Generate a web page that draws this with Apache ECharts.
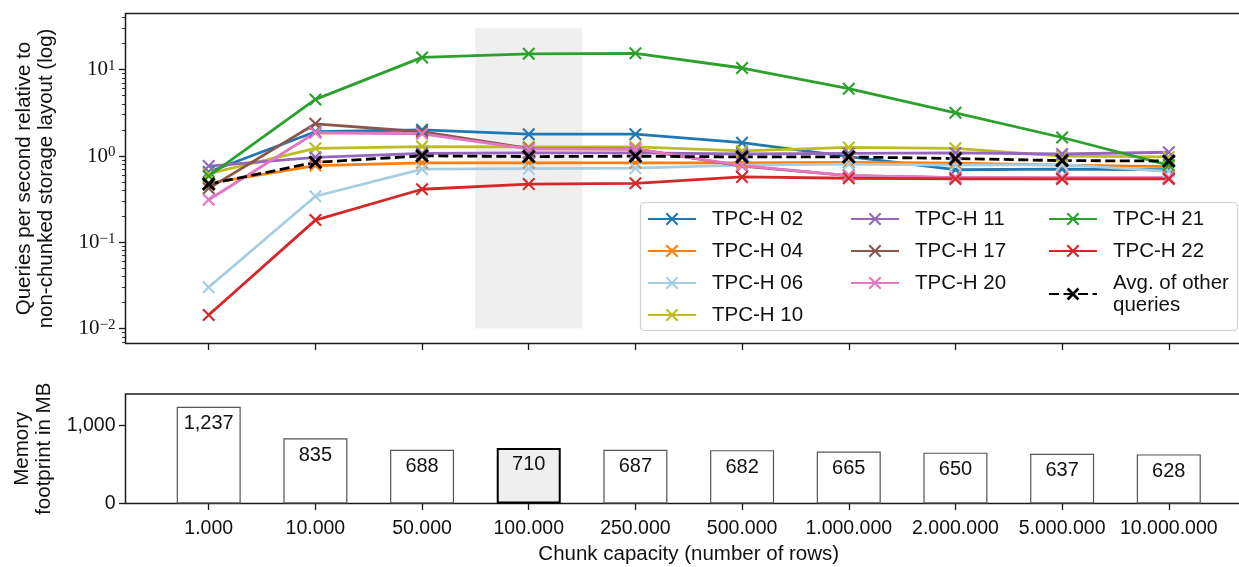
<!DOCTYPE html>
<html>
<head>
<meta charset="utf-8">
<script src="https://cdn.jsdelivr.net/npm/echarts@6/dist/echarts.min.js"></script>
<style>html,body{margin:0;padding:0;background:#fff;}#c{width:1239px;height:567px;}</style>
</head>
<body>
<div id="c"></div>
<script>
const categories = ['1.000','10.000','50.000','100.000','250.000','500.000','1.000.000','2.000.000','5.000.000','10.000.000'];
const q02 = [0.65, 1.9, 2.0, 1.78, 1.78, 1.42, 0.98, 0.69, 0.70, 0.69];
const q04 = [0.48, 0.77, 0.83, 0.83, 0.83, 0.83, 0.84, 0.82, 0.78, 0.75];
const q06 = [0.030, 0.34, 0.70, 0.71, 0.72, 0.78, 0.80, 0.78, 0.79, 0.66];
const q10 = [0.62, 1.22, 1.28, 1.27, 1.27, 1.14, 1.25, 1.22, 0.99, 0.97];
const q11 = [0.76, 0.96, 1.07, 1.08, 1.08, 1.05, 1.07, 1.08, 1.05, 1.10];
const q17 = [0.42, 2.35, 1.9, 1.22, 1.2, 0.76, 0.59, 0.56, 0.55, 0.55];
const q20 = [0.31, 1.85, 1.8, 1.2, 1.2, 0.77, 0.59, 0.56, 0.56, 0.56];
const q21 = [0.58, 4.5, 13.8, 15.2, 15.4, 10.4, 6.0, 3.15, 1.63, 0.78];
const q22 = [0.0143, 0.18, 0.41, 0.47, 0.48, 0.57, 0.55, 0.54, 0.54, 0.54];
const avgOther = [0.47, 0.84, 1.0, 0.98, 0.99, 0.97, 0.97, 0.93, 0.88, 0.87];
const memoryMB = [1237, 835, 688, 710, 687, 682, 665, 650, 637, 628];
const highlightIndex = 3;
const logMajorTicks = [0.01, 0.1, 1, 10];
const memTicks = [0, 1000];

const SANS = 'Liberation Sans';
const SERIF = 'Liberation Serif';
const AX = '#1a1a1a';

function xPath(d) {
  return 'path://M0,' + d + 'L' + d + ',0L5,' + (5 - d) + 'L' + (10 - d) + ',0L10,' + d + 'L' + (5 + d) + ',5L10,' + (10 - d) +
    'L' + (10 - d) + ',10L5,' + (5 + d) + 'L' + d + ',10L0,' + (10 - d) + 'L' + (5 - d) + ',5Z';
}

const minorTicks = [];
for (let e = -3; e <= 1; e++) {
  for (let m = 2; m <= 9; m++) minorTicks.push(m * Math.pow(10, e));
}
const idx = categories.map((c, i) => i);

function lineSeries(name, values, color, extra) {
  const s = {
    type: 'line', name: name, xAxisIndex: 0, yAxisIndex: 0,
    data: values.map((v, i) => [i, v]),
    symbol: xPath(1.15), symbolSize: 13,
    itemStyle: { color: color },
    lineStyle: { color: color, width: 2.8 },
    emphasis: { disabled: true },
    animation: false
  };
  return Object.assign(s, extra || {});
}

const series = [
  lineSeries('TPC-H 02', q02, '#1f77b4', {
    markArea: {
      silent: true,
      itemStyle: { color: '#efefef' },
      data: [[{ xAxis: highlightIndex - 0.5, yAxis: 0.01 }, { xAxis: highlightIndex + 0.5, yAxis: 30 }]]
    }
  }),
  lineSeries('TPC-H 04', q04, '#ff7f0e'),
  lineSeries('TPC-H 06', q06, '#a6cee3'),
  lineSeries('TPC-H 10', q10, '#bcbd22'),
  lineSeries('TPC-H 11', q11, '#9467bd'),
  lineSeries('TPC-H 17', q17, '#8c564b'),
  lineSeries('TPC-H 20', q20, '#e377c2'),
  lineSeries('TPC-H 21', q21, '#2ca02c'),
  lineSeries('TPC-H 22', q22, '#d62728'),
  lineSeries('Avg. of other queries', avgOther, '#000000', {
    symbol: xPath(1.5), symbolSize: 14,
    lineStyle: { color: '#000', width: 2.8, type: [10, 4.5] }
  }),
  {
    type: 'bar', name: 'Memory', xAxisIndex: 1, yAxisIndex: 2,
    data: memoryMB.map((v, i) => i === highlightIndex
      ? { value: [i, v], itemStyle: { color: '#efefef', borderColor: '#000', borderWidth: 2 } }
      : { value: [i, v] }),
    barWidth: 64,
    itemStyle: { color: '#ffffff', borderColor: '#555', borderWidth: 1.2 },
    label: {
      show: true, position: 'insideTop', distance: 7,
      fontFamily: SANS, fontSize: 20, color: '#111',
      formatter: p => p.value[1].toLocaleString('en-US')
    },
    emphasis: { disabled: true },
    animation: false
  }
];

const legendCommon = {
  orient: 'vertical', itemWidth: 48, itemHeight: 16, itemGap: 10, padding: 0,
  selectedMode: false,
  textStyle: { fontFamily: SANS, fontSize: 20.5, color: '#111', lineHeight: 22, padding: [0, 0, 0, 11] },
  formatter: n => n === 'Avg. of other queries' ? 'Avg. of other\nqueries' : n
};

const noLine = { show: false, onZero: false };

const chart = echarts.init(document.getElementById('c'), null, { renderer: 'canvas' });
chart.setOption({
  animation: false,
  backgroundColor: '#fff',
  grid: [
    { left: 125.5, top: 13.5, width: 1126.5, height: 330, show: true, borderColor: AX, borderWidth: 1.5, backgroundColor: 'transparent', outerBoundsMode: 'none', containLabel: false },
    { left: 125.5, top: 394, width: 1126.5, height: 109.5, show: true, borderColor: AX, borderWidth: 1.5, backgroundColor: 'transparent', outerBoundsMode: 'none', containLabel: false }
  ],
  xAxis: [
    {
      gridIndex: 0, type: 'value', min: -0.78, max: 9.78,
      axisLine: noLine, splitLine: { show: false },
      axisTick: { show: true, inside: false, length: 6.5, lineStyle: { color: AX, width: 1.3 }, customValues: idx },
      axisLabel: { show: false }
    },
    {
      gridIndex: 1, type: 'value', min: -0.78, max: 9.78,
      axisLine: noLine, splitLine: { show: false },
      axisTick: { show: true, inside: false, length: 6.5, lineStyle: { color: AX, width: 1.3 }, customValues: idx },
      axisLabel: {
        show: true, customValues: idx, margin: 15,
        fontFamily: SANS, fontSize: 19.5, color: '#111',
        formatter: v => categories[Math.round(v)]
      },
      name: 'Chunk capacity (number of rows)', nameLocation: 'middle', nameGap: 40,
      nameTextStyle: { fontFamily: SANS, fontSize: 20.5, color: '#111' }
    }
  ],
  yAxis: [
    {
      gridIndex: 0, type: 'log', logBase: 10, min: 0.0067, max: 44.5,
      axisLine: noLine, splitLine: { show: false },
      axisTick: { show: true, inside: false, length: 6.5, lineStyle: { color: AX, width: 1.3 }, customValues: logMajorTicks },
      axisLabel: {
        show: true, customValues: logMajorTicks, margin: 10,
        formatter: v => {
          const e = Math.round(Math.log10(v));
          return '{b|10}{s|' + (e < 0 ? '\u2212' + (-e) : e) + '}';
        },
        rich: {
          b: { fontFamily: SERIF, fontSize: 21, color: '#111', lineHeight: 22, verticalAlign: 'bottom' },
          s: { fontFamily: SERIF, fontSize: 15, color: '#111', lineHeight: 14, verticalAlign: 'top' }
        }
      },
      name: 'Queries per second relative to\nnon-chunked storage layout (log)',
      nameLocation: 'middle', nameGap: 68, nameRotate: 90,
      nameTextStyle: { fontFamily: SANS, fontSize: 20.5, color: '#111', lineHeight: 22 }
    },
    {
      gridIndex: 0, type: 'log', logBase: 10, min: 0.0067, max: 44.5, position: 'left', offset: 0,
      axisLine: noLine, splitLine: { show: false },
      axisTick: { show: true, inside: false, length: 3.5, lineStyle: { color: AX, width: 0.9 }, customValues: minorTicks },
      axisLabel: { show: false }
    },
    {
      gridIndex: 1, type: 'value', min: 0, max: 1400,
      axisLine: noLine, splitLine: { show: false },
      axisTick: { show: true, inside: false, length: 6.5, lineStyle: { color: AX, width: 1.3 }, customValues: memTicks },
      axisLabel: {
        show: true, customValues: memTicks, margin: 10,
        fontFamily: SANS, fontSize: 19.5, color: '#111',
        formatter: v => Number(v).toLocaleString('en-US')
      },
      name: 'Memory\nfootprint in MB',
      nameLocation: 'middle', nameGap: 68, nameRotate: 90,
      nameTextStyle: { fontFamily: SANS, fontSize: 20.5, color: '#111', lineHeight: 22 }
    }
  ],
  legend: [
    Object.assign({}, legendCommon, { left: 647, top: 208, data: ['TPC-H 02', 'TPC-H 04', 'TPC-H 06', 'TPC-H 10'] }),
    Object.assign({}, legendCommon, { left: 850, top: 208, data: ['TPC-H 11', 'TPC-H 17', 'TPC-H 20'] }),
    Object.assign({}, legendCommon, { left: 1048, top: 208, data: ['TPC-H 21', 'TPC-H 22', 'Avg. of other queries'] })
  ],
  graphic: [
    {
      type: 'rect', z: 3, silent: true,
      shape: { x: 640.5, y: 202.5, width: 597, height: 128, r: 4 },
      style: { fill: 'rgba(255,255,255,0.85)', stroke: '#d2d2d2', lineWidth: 1.2 }
    }
  ],
  series: series
});
</script>
</body>
</html>
